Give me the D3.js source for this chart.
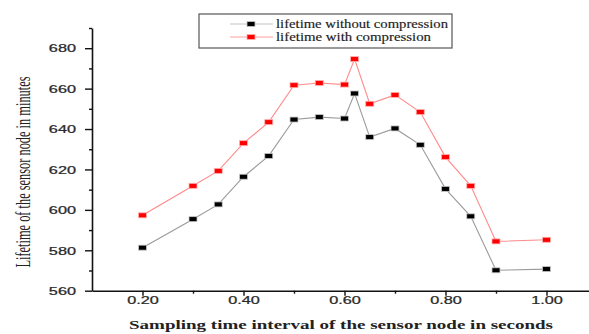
<!DOCTYPE html>
<html>
<head>
<meta charset="utf-8">
<script src="https://cdn.jsdelivr.net/npm/d3@7/dist/d3.min.js"></script>
<style>
  html, body { margin: 0; padding: 0; background: #fff; }
  svg { display: block; }
</style>
</head>
<body>
<svg id="chart" width="589" height="334"></svg>
<script>
// Sampling interval (s) and node lifetime (min)
const intervals = [0.20, 0.30, 0.35, 0.40, 0.45, 0.50, 0.55, 0.60, 0.62, 0.65, 0.70, 0.75, 0.80, 0.85, 0.90, 1.00];
const lifetimeWithout = [581.3, 595.4, 602.7, 616.4, 626.7, 644.7, 645.9, 645.2, 657.6, 636.0, 640.3, 632.2, 610.4, 596.8, 570.1, 570.7];
const lifetimeWith    = [597.3, 611.9, 619.3, 633.0, 643.4, 661.7, 662.8, 662.0, 674.6, 652.5, 656.9, 648.4, 626.1, 611.9, 584.4, 585.2];
const seriesNames = ["lifetime without compression", "lifetime with compression"];
const xMajorTicks = [0.2, 0.4, 0.6, 0.8, 1.0];
const xMinorTicks = [0.3, 0.5, 0.7, 0.9];
const yMajorTicks = [560, 580, 600, 620, 640, 660, 680];
const yMinorTicks = [570, 590, 610, 630, 650, 670, 690];

const svg = d3.select("#chart");
const SX = 1.55; // horizontal stretch applied to all lettering

const x = d3.scaleLinear().domain([0.1, 1.1]).range([92, 597]);
const y = d3.scaleLinear().domain([560, 690]).range([290.7, 28]);

const series = [
  { name: seriesNames[0], values: lifetimeWithout, line: "#9a9a9a", fill: "#000", edge: "#c8c8c8" },
  { name: seriesNames[1], values: lifetimeWith, line: "#ff8a8a", fill: "#ff0000", edge: "#ffb0b0" }
];

// lines and markers
const lineGen = d3.line().x(d => x(d[0])).y(d => y(d[1]));
series.forEach(s => {
  const pts = intervals.map((t, i) => [t, s.values[i]]);
  svg.append("path").datum(pts)
    .attr("d", lineGen).attr("fill", "none")
    .attr("stroke", s.line).attr("stroke-width", 1.1);
  svg.append("g").selectAll("rect").data(pts).join("rect")
    .attr("x", d => x(d[0]) - 4).attr("y", d => y(d[1]) - 2.5)
    .attr("width", 8).attr("height", 5)
    .attr("fill", s.fill).attr("stroke", s.edge).attr("stroke-width", 0.8);
});

const tickFont = "'Liberation Sans', Arial, sans-serif";

// y axis
const yAxisG = svg.append("g").attr("transform", "translate(92,0)");
yAxisG.call(d3.axisLeft(y).tickValues(yMajorTicks).tickSize(7).tickSizeOuter(0).tickFormat(d3.format("d")));
yAxisG.append("g").call(d3.axisLeft(y).tickValues(yMinorTicks).tickSize(3).tickSizeOuter(0).tickFormat(""))
  .select(".domain").remove();
yAxisG.selectAll(".tick text")
  .attr("x", -16 / SX).attr("dy", "0.36em")
  .attr("transform", `scale(${SX},1)`)
  .style("font-family", tickFont)
  .style("font-size", "10.5px").style("font-weight", "normal").attr("fill", "#2a2a2a")
  .attr("stroke", "#2a2a2a").attr("stroke-width", 0.25);

// x axis
const xAxisG = svg.append("g").attr("transform", "translate(0,290.7)");
xAxisG.call(d3.axisBottom(x).tickValues(xMajorTicks).tickSize(5).tickSizeOuter(0).tickFormat(d3.format(".2f")));
xAxisG.append("g").call(d3.axisBottom(x).tickValues(xMinorTicks).tickSize(3).tickSizeOuter(0).tickFormat(""))
  .select(".domain").remove();
xAxisG.selectAll(".tick text")
  .attr("y", 13).attr("dy", 0).attr("x", 0)
  .attr("transform", `scale(${SX},1)`)
  .style("font-family", tickFont)
  .style("font-size", "10.5px").style("font-weight", "normal").attr("fill", "#2a2a2a")
  .attr("stroke", "#2a2a2a").attr("stroke-width", 0.25);

svg.selectAll(".domain").attr("stroke", "#111").attr("stroke-width", 1.6);
svg.selectAll(".tick line").attr("stroke", "#111").attr("stroke-width", 1.4);

// axis titles
svg.append("text")
  .attr("transform", `translate(341,329) scale(${SX},1)`)
  .attr("text-anchor", "middle")
  .attr("textLength", 424 / SX).attr("lengthAdjust", "spacingAndGlyphs")
  .style("font-family", "'Liberation Serif', 'Times New Roman', serif")
  .style("font-size", "12px").style("font-weight", "bold").attr("fill", "#222")
  .text("Sampling time interval of the sensor node in seconds");

svg.append("text")
  .attr("transform", `translate(30,172) scale(${SX},1) rotate(-90)`)
  .attr("text-anchor", "middle")
  .attr("textLength", 191).attr("lengthAdjust", "spacingAndGlyphs")
  .style("font-family", "'Liberation Serif', 'Times New Roman', serif")
  .style("font-size", "13px").attr("fill", "#222")
  .text("Lifetime of the sensor node in minutes");

// legend
const legend = svg.append("g");
legend.append("rect")
  .attr("x", 199).attr("y", 14).attr("width", 253).attr("height", 34)
  .attr("fill", "#fff").attr("stroke", "#555").attr("stroke-width", 1.2);
const rowY = [24, 37];
const textW = [172, 155];
series.forEach((s, i) => {
  legend.append("line")
    .attr("x1", 230).attr("x2", 273).attr("y1", rowY[i]).attr("y2", rowY[i])
    .attr("stroke", i === 0 ? "#c4c4c4" : "#ffa0a0").attr("stroke-width", 1.2);
  legend.append("rect")
    .attr("x", 247).attr("y", rowY[i] - 2.5).attr("width", 8).attr("height", 5)
    .attr("fill", s.fill).attr("stroke", s.edge).attr("stroke-width", 0.8);
  legend.append("text")
    .attr("transform", `translate(276,${rowY[i] + 3.5}) scale(${SX},1)`)
    .attr("textLength", textW[i] / SX).attr("lengthAdjust", "spacingAndGlyphs")
    .style("font-family", "'Liberation Serif', 'Times New Roman', serif")
    .style("font-size", "11.5px").attr("fill", "#222")
    .attr("stroke", "#222").attr("stroke-width", 0.15)
    .text(s.name);
});
</script>
</body>
</html>
